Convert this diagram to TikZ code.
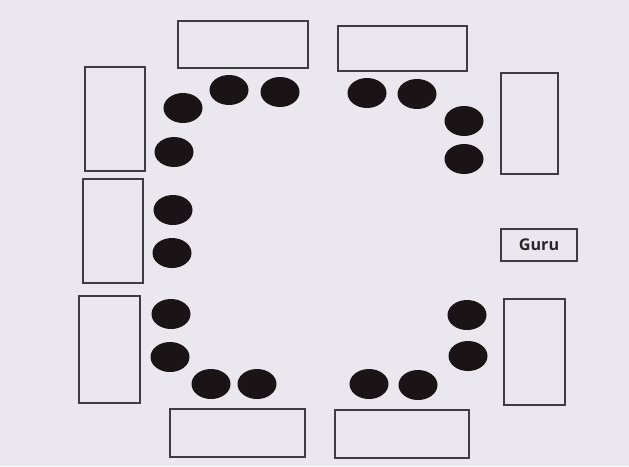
\documentclass[tikz,border=0pt]{standalone}
\usepackage{fontspec}
\setmainfont{Open Sans}
\definecolor{paper}{RGB}{234,232,238}
\definecolor{ink}{RGB}{62,60,62}
\definecolor{seatfill}{RGB}{26,20,22}
\begin{document}
\begin{tikzpicture}[x=0.025cm, y=-0.025cm,
    table/.style={draw=ink, line width=0.8pt},
    seat/.style={fill=seatfill}]
    \fill[paper] (0,0) rectangle (629,466);
    \useasboundingbox (0,0) rectangle (629,466);
    % tables round the room
    \draw[table] (178,21) rectangle (308,68);
    \draw[table] (338,26) rectangle (467,71);
    \draw[table] (85,67) rectangle (145,171);
    \draw[table] (83,179) rectangle (143,283);
    \draw[table] (79,296) rectangle (140,403);
    \draw[table] (501,73) rectangle (558,174);
    \draw[table] (504,299) rectangle (565,405);
    \draw[table] (170,409) rectangle (305,457);
    \draw[table] (335,410) rectangle (469,458);
    % seats
    \foreach \sx/\sy in {229/90, 280/92, 183/108, 174/152, 173/210, 172/253,
                         171/314, 170/357, 211/384, 257/384,
                         367/93, 417/94, 464/121, 464/159,
                         467/315, 468/356, 369/384, 418/385}
        \fill[seat] (\sx,\sy) ellipse [x radius=19.5, y radius=15];
    \node[draw=ink, line width=0.8pt, minimum width=1.9cm, minimum height=0.8cm,
          inner sep=0pt, font=\fontsize{11.5}{13}\selectfont\bfseries, text=black!85]
        (guru) at (539,245) {Guru};
\end{tikzpicture}
\end{document}
